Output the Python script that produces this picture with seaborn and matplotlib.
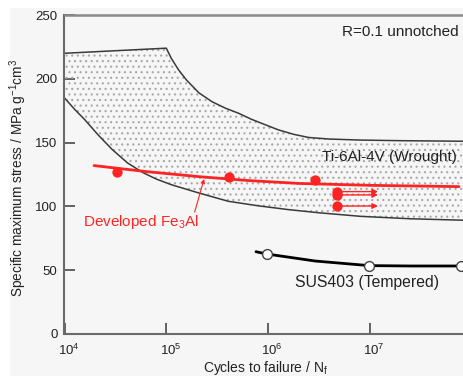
import numpy as np
import pandas as pd
import matplotlib
matplotlib.use("Agg")
import matplotlib.pyplot as plt
import seaborn as sns
from matplotlib.patches import Rectangle
from matplotlib.ticker import NullLocator, FixedLocator
from matplotlib.transforms import ScaledTranslation

# ---------------- data ----------------
# Ti-6Al-4V (wrought) scatter band: upper and lower bounds
ti_upper_n = [1e4, 1e5, 1.12e5, 1.32e5, 1.58e5, 2.09e5, 2.82e5, 3.8e5, 5.13e5, 6.76e5, 8.71e5,
              1.26e6, 1.78e6, 2.51e6, 3.98e6, 7.94e6, 2e7, 1e8]
ti_upper_s = [220, 224, 216, 207, 199, 189, 182, 177, 173, 168.5, 165,
              160, 156.5, 154, 152.8, 152, 151.5, 151]
ti_lower_n = [1e4, 1.26e4, 1.58e4, 2.14e4, 2.95e4, 4.17e4, 5.89e4, 7.94e4, 1.12e5, 2.09e5,
              4.07e5, 7.94e5, 1.58e6, 3.16e6, 8.13e6, 2.51e7, 1e8]
ti_lower_s = [185, 176, 168, 156, 144.5, 134, 126.5, 121.5, 117, 110.5,
              104, 100.5, 97.5, 95, 92.2, 90.3, 89]

# Developed Fe3Al: fitted curve, failures and run-outs
fe_fit_n = [1.95e4, 6.3e4, 2.1e5, 6.3e5, 2e6, 1e7, 7.5e7]
fe_fit_s = [132, 127.3, 123.3, 120.3, 118, 116.5, 115.5]
fe_pts_n = [3.3e4, 4.1e5, 2.9e6]
fe_pts_s = [126.7, 123, 120.5]
fe_run_n = [4.7e6, 4.7e6, 4.7e6]
fe_run_s = [111.6, 109, 100.3]
fe_run_end_n = 1.2e7

# SUS403 (tempered)
sus_line_n = [7.6e5, 9.7e5, 2.9e6, 9.8e6, 2.5e7, 7.85e7]
sus_line_s = [64.5, 62.7, 57.2, 53.6, 53.3, 53.3]
sus_pts_n = [9.7e5, 9.8e6, 7.85e7]
sus_pts_s = [62.7, 53.3, 53.3]

x_ticks = [1e4, 1e5, 1e6, 1e7, 1e8]
y_ticks = [0, 50, 100, 150, 200, 250]

# ---------------- style ----------------
sns.set_style("ticks")
plt.rcParams["font.family"] = ["Liberation Sans", "DejaVu Sans"]
plt.rcParams["mathtext.default"] = "regular"
plt.rcParams["hatch.color"] = "#a8a8a8"
plt.rcParams["hatch.linewidth"] = 0.8

RED = "#ff2424"
BG = "#f6f6f6"
TXT = "#222222"

fig = plt.figure(figsize=(4.64, 3.76), dpi=100)
fig.patch.set_facecolor("white")
fig.patches.append(Rectangle((10 / 464, 0), 1, (376 - 8) / 376, transform=fig.transFigure,
                             facecolor=BG, edgecolor="none", zorder=-10))

W, H = 464, 376
x0, x1, y0, y1 = 64.5, 471.7, 334, 15
ax = fig.add_axes([x0 / W, (H - y0) / H, (x1 - x0) / W, (y0 - y1) / H])
ax.set_facecolor(BG)
ax.set_xscale("log")
ax.set_xlim(1e4, 1e8)
ax.set_ylim(0, 250)

# scatter band (dotted fill)
ax.fill(list(ti_upper_n) + list(ti_lower_n[::-1]), list(ti_upper_s) + list(ti_lower_s[::-1]),
        facecolor="none", edgecolor="#a8a8a8", linewidth=0, hatch="...", zorder=1)
sns.lineplot(x=ti_upper_n, y=ti_upper_s, sort=False, estimator=None, color="#3a3a3a", lw=1.1, ax=ax, zorder=2)
sns.lineplot(x=ti_lower_n, y=ti_lower_s, sort=False, estimator=None, color="#3a3a3a", lw=1.1, ax=ax, zorder=2)

# Fe3Al
sns.lineplot(x=fe_fit_n, y=fe_fit_s, sort=False, estimator=None, color=RED, lw=2, ax=ax, zorder=4)
sns.scatterplot(x=fe_pts_n, y=fe_pts_s, color=RED, s=55, edgecolor=RED, linewidth=0, ax=ax, zorder=5)
sns.scatterplot(x=fe_run_n, y=fe_run_s, color=RED, s=55, edgecolor=RED, linewidth=0, ax=ax, zorder=5)
for n, s in zip(fe_run_n, fe_run_s):
    ax.annotate("", xy=(fe_run_end_n, s), xytext=(n, s),
                arrowprops=dict(arrowstyle="-|>", color=RED, lw=1.0, mutation_scale=8,
                                shrinkA=0, shrinkB=0), zorder=4)

# SUS403
sns.lineplot(x=sus_line_n, y=sus_line_s, sort=False, estimator=None, color="black", lw=2, ax=ax, zorder=4)
sns.scatterplot(x=sus_pts_n, y=sus_pts_s, color="white", s=50, edgecolor="#444444", linewidth=1, ax=ax, zorder=5)

# texts
ax.text(7.4e7, 237, "R=0.1 unnotched", ha="right", va="center", fontsize=11, color=TXT)
ax.text(7.1e7, 138.7, "Ti-6Al-4V (Wrought)", ha="right", va="center", fontsize=11, color=TXT)
ax.text(9.3e6, 40, "SUS403 (Tempered)", ha="center", va="center", fontsize=11.3, color=TXT)
ax.text(1.52e4, 88, "Developed Fe$_3$Al", ha="left", va="center", fontsize=11, color=RED)
ax.annotate("", xy=(2.35e5, 121.5), xytext=(1.9e5, 95.6),
            arrowprops=dict(arrowstyle="-|>", color=RED, lw=0.8, mutation_scale=6,
                            shrinkA=0, shrinkB=0), zorder=4)

# axes
ax.xaxis.set_major_locator(FixedLocator(x_ticks))
ax.xaxis.set_minor_locator(NullLocator())
ax.set_yticks(y_ticks)
ax.tick_params(axis="both", direction="in", length=8, width=1.3, color="#555555",
               labelsize=9.5, labelcolor=TXT)
ax.tick_params(axis="x", pad=6)
ax.tick_params(axis="y", pad=5)
off = ScaledTranslation(4 / 100, 0, fig.dpi_scale_trans)
for lab in ax.get_xticklabels():
    lab.set_transform(lab.get_transform() + off)
for side in ["left", "bottom"]:
    ax.spines[side].set_color("#6a6a6a")
    ax.spines[side].set_linewidth(1.5)
ax.spines["top"].set_color("#8a8a8a")
ax.spines["top"].set_linewidth(1.8)
ax.spines["right"].set_visible(False)

ax.set_xlabel("Cycles to failure / N$_f$", fontsize=10, color=TXT)
ax.set_ylabel("Specific maximum stress / MPa g$^{-1}$cm$^{3}$", fontsize=9.8, color=TXT)
ax.xaxis.set_label_coords((266 - x0) / (x1 - x0), (y0 - 359) / (y0 - y1))
ax.yaxis.set_label_coords((29 - x0) / (x1 - x0), (y0 - 178) / (y0 - y1))

fig.savefig("out.png", dpi=100, facecolor=fig.get_facecolor())
